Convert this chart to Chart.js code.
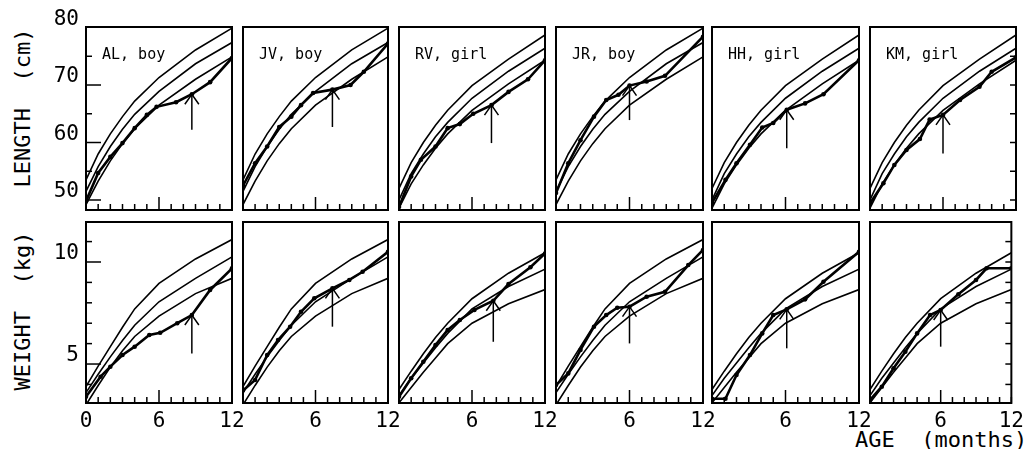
<!DOCTYPE html>
<html><head><meta charset="utf-8">
<script src="https://cdn.jsdelivr.net/npm/chart.js@4.4.1/dist/chart.umd.min.js"></script>
<style>
html,body{margin:0;padding:0;background:#fff}
body{width:1030px;height:449px;position:relative;overflow:hidden;font-family:"DejaVu Sans Mono",monospace;color:#000}
canvas{position:absolute;left:0;top:0}
.ttl{position:absolute;font-size:22px;line-height:22px;white-space:pre}
</style></head>
<body>
<div class="ttl" id="tLen" style="left:23px;top:108px;transform:translate(-50%,-50%) rotate(-90deg)">LENGTH  (cm)</div>
<div class="ttl" id="tWt" style="left:23px;top:311px;transform:translate(-50%,-50%) rotate(-90deg)">WEIGHT  (kg)</div>
<div class="ttl" id="tAge" style="left:855px;top:429px">AGE  (months)</div>
<script>
// ---------- data ----------
const panelNames = ["AL, boy", "JV, boy", "RV, girl", "JR, boy", "HH, girl", "KM, girl"];
const panelSex = ["boy", "boy", "girl", "boy", "girl", "girl"];

// reference growth curves (months and values)
const refMonths = [0, 1, 2, 3, 4, 6, 9, 12];
const boyLenHigh = [53.5, 58.0, 61.5, 64.5, 67.2, 71.3, 76.1, 79.9];
const boyLenMid  = [51.5, 55.8, 59.3, 62.3, 64.9, 68.9, 73.7, 77.4];
const boyLenLow  = [49.2, 53.3, 56.8, 59.8, 62.4, 66.5, 71.0, 74.9];
const girlLenHigh = [52.0, 56.5, 60.0, 63.0, 65.6, 69.9, 74.5, 78.7];
const girlLenMid  = [50.0, 54.6, 58.0, 61.0, 63.5, 67.7, 72.4, 76.4];
const girlLenLow  = [48.6, 52.8, 56.1, 59.0, 61.5, 65.6, 70.2, 74.3];
const boyWtHigh = [3.9, 4.9, 5.85, 6.8, 7.7, 8.95, 10.15, 11.1];
const boyWtMid  = [3.6, 4.5, 5.35, 6.15, 6.9, 8.05, 9.2, 10.25];
const boyWtLow  = [3.0, 3.95, 4.85, 5.65, 6.35, 7.35, 8.45, 9.2];
const girlWtHigh = [3.75, 4.65, 5.5, 6.3, 7.0, 8.2, 9.45, 10.45];
const girlWtMid  = [3.45, 4.3, 5.05, 5.8, 6.5, 7.7, 8.8, 9.65];
const girlWtLow  = [3.1, 3.85, 4.6, 5.3, 6.0, 7.0, 7.95, 8.65];

// infants: length (cm)
const alLenMonths = [0, 1, 2, 3, 4, 5, 5.8, 7.4, 8.7, 10.2, 12];
const alLenValues = [49.8, 54.7, 57.5, 59.9, 62.5, 64.8, 66.2, 67.0, 68.4, 70.5, 74.7];
const jvLenMonths = [0, 1, 2, 3, 4, 4.8, 5.8, 7.4, 8.9, 10, 12];
const jvLenValues = [52.5, 56.4, 59.3, 62.7, 64.5, 66.5, 68.6, 69.2, 70.0, 72.3, 77.2];
const rvLenMonths = [0, 1, 1.8, 3, 4, 5, 6.1, 7.6, 9, 10.6, 12];
const rvLenValues = [48.8, 54.1, 57.0, 59.3, 62.5, 63.2, 65.0, 66.5, 68.8, 71.0, 74.3];
const jrLenMonths = [0, 1, 2, 3.1, 4.1, 5.1, 6, 7.4, 8.9, 12];
const jrLenValues = [51.2, 56.4, 60.4, 64.5, 67.4, 68.3, 69.9, 70.6, 71.6, 78.4];
const hhLenMonths = [0, 1.1, 2, 3.1, 4.1, 5, 6.1, 7.6, 9.1, 12];
const hhLenValues = [49.5, 53.5, 56.4, 59.6, 62.6, 63.4, 65.7, 66.8, 68.4, 74.3];
const kmLenMonths = [0, 1.1, 2, 3, 4.1, 4.9, 6, 7.4, 9, 10, 12];
const kmLenValues = [49.4, 52.9, 56.1, 58.7, 60.6, 64.0, 64.8, 67.4, 69.7, 72.3, 74.8];

// infants: weight (kg)
const alWtMonths = [0, 1.2, 2, 3, 4, 5.2, 6.1, 7.5, 8.7, 10.2, 12];
const alWtValues = [3.4, 4.38, 4.87, 5.44, 5.85, 6.42, 6.53, 7.0, 7.4, 8.63, 9.69];
const jvWtMonths = [0, 1, 2, 2.9, 3.9, 4.8, 5.9, 7.4, 8.8, 9.9, 12];
const jvWtValues = [3.7, 4.22, 5.44, 6.18, 6.83, 7.56, 8.22, 8.71, 9.12, 9.52, 10.5];
const rvWtMonths = [0, 1, 2, 3, 4, 5, 6.2, 7.75, 9, 10.8, 12];
const rvWtValues = [3.4, 4.3, 5.11, 5.93, 6.67, 7.16, 7.65, 8.1, 8.92, 9.74, 10.42];
const jrWtMonths = [0, 1, 2, 3.1, 4.1, 5, 6, 7.4, 8.9, 10.8, 12];
const jrWtValues = [3.97, 4.54, 5.69, 6.83, 7.4, 7.76, 7.81, 8.3, 8.54, 9.85, 10.59];
const hhWtMonths = [0, 1.1, 2, 3.1, 4.1, 5, 6.1, 7.6, 9.1, 12];
const hhWtValues = [3.3, 3.3, 4.46, 5.44, 6.5, 7.4, 7.68, 8.17, 9.03, 10.5];
const kmWtMonths = [0, 1, 2, 3, 4, 5.1, 6, 7.5, 9, 9.9, 12];
const kmWtValues = [3.24, 3.89, 4.79, 5.6, 6.5, 7.4, 7.65, 8.42, 9.12, 9.69, 9.69];

// arrows (month, tip value, tail value)
const lenArrowMonth = [8.7, 7.4, 7.6, 6.0, 6.1, 6.0];
const lenArrowTip   = [68.4, 69.2, 66.5, 69.9, 65.7, 64.8];
const lenArrowTail  = [62.2, 62.7, 59.9, 63.9, 59.0, 58.1];
const wtArrowMonth = [8.7, 7.4, 7.75, 6.0, 6.1, 6.0];
const wtArrowTip   = [7.4, 8.71, 8.1, 7.81, 7.68, 7.65];
const wtArrowTail  = [5.52, 6.83, 6.09, 6.01, 5.77, 5.85];

// axes / ticks
const monthTicks = [0, 1, 2, 3, 4, 5, 6, 7, 8, 9, 10, 11, 12];
const firstPanelMonthLabels = [0, 6, 12];
const otherPanelMonthLabels = [6, 12];
const lenTickLabels = [50, 60, 70, 80];
const lenMajorTicks = [50, 60, 70];
const lenMinorTicks = [55, 65, 75];
const lenRightTicks = [50, 55, 60, 65, 70, 75];
const wtTickLabels = [5, 10];
const wtMajorTicks = [5, 10];
const wtMinorTicks = [4, 6, 7, 8, 9, 11];
const wtRightTicks = [4, 5, 6, 7, 8, 9, 10, 11];
const lenRange = [48.26, 80.09];
const wtRange = [3.09, 11.96];

// ---------- layout ----------
const PANEL_LEFT  = [86, 243, 399, 556, 712, 870];
const PANEL_RIGHT = [232, 388, 545, 703, 859, 1016];
const ROW_TOP = [27, 222];
const ROW_BOTTOM = [210, 403];
const W = 1030, H = 449;
const Y_AXIS_W = 40, X_AXIS_H = 30;
const TICK_FONT = {family: '"DejaVu Sans Mono", monospace', size: 21};

const lenSeries = [
  [alLenMonths, alLenValues], [jvLenMonths, jvLenValues], [rvLenMonths, rvLenValues],
  [jrLenMonths, jrLenValues], [hhLenMonths, hhLenValues], [kmLenMonths, kmLenValues]];
const wtSeries = [
  [alWtMonths, alWtValues], [jvWtMonths, jvWtValues], [rvWtMonths, rvWtValues],
  [jrWtMonths, jrWtValues], [hhWtMonths, hhWtValues], [kmWtMonths, kmWtValues]];

function xy(ms, vs) { return ms.map((m, i) => ({x: m, y: vs[i]})); }

function refCurves(row, sex) {
  if (row === 0) return sex === 'boy' ? [boyLenHigh, boyLenMid, boyLenLow] : [girlLenHigh, girlLenMid, girlLenLow];
  return sex === 'boy' ? [boyWtHigh, boyWtMid, boyWtLow] : [girlWtHigh, girlWtMid, girlWtLow];
}

function makePanel(row, col) {
  const cv = document.createElement('canvas');
  cv.width = W; cv.height = H;
  cv.style.width = W + 'px'; cv.style.height = H + 'px';
  document.body.appendChild(cv);
  const sex = panelSex[col];
  const refs = refCurves(row, sex);
  const series = row === 0 ? lenSeries[col] : wtSeries[col];
  const range = row === 0 ? lenRange : wtRange;
  const datasets = refs.map(r => ({
    data: xy(refMonths, r), borderColor: '#000', borderWidth: 1.6,
    pointRadius: 0, tension: 0, fill: false
  }));
  datasets.push({
    data: xy(series[0], series[1]), borderColor: '#000', borderWidth: 2.6,
    pointRadius: 2.3, pointBackgroundColor: '#000', pointBorderWidth: 0,
    tension: 0, fill: false
  });
  const arrowM = row === 0 ? lenArrowMonth[col] : wtArrowMonth[col];
  const arrowT = row === 0 ? lenArrowTip[col] : wtArrowTip[col];
  const arrowB = row === 0 ? lenArrowTail[col] : wtArrowTail[col];

  const decor = {
    id: 'decor' + row + col,
    afterDatasetsDraw(chart) {
      const ctx = chart.ctx, a = chart.chartArea, x = chart.scales.x, y = chart.scales.y;
      ctx.save();
      ctx.strokeStyle = '#000'; ctx.fillStyle = '#000'; ctx.lineCap = 'butt';
      ctx.lineWidth = 1.5;
      monthTicks.forEach(m => {
        const px = x.getPixelForValue(m);
        const len = m === 6 ? 13 : 6;
        ctx.beginPath(); ctx.moveTo(px, a.bottom); ctx.lineTo(px, a.bottom - len); ctx.stroke();
      });
      if (col === 0) {
        const maj = row === 0 ? lenMajorTicks : wtMajorTicks;
        const min = row === 0 ? lenMinorTicks : wtMinorTicks;
        maj.forEach(v => { const py = y.getPixelForValue(v); ctx.beginPath(); ctx.moveTo(a.left, py); ctx.lineTo(a.left + 15, py); ctx.stroke(); });
        min.forEach(v => { const py = y.getPixelForValue(v); ctx.beginPath(); ctx.moveTo(a.left, py); ctx.lineTo(a.left + 6, py); ctx.stroke(); });
      }
      if (col === 5) {
        const rt = row === 0 ? lenRightTicks : wtRightTicks;
        rt.forEach(v => { const py = y.getPixelForValue(v); ctx.beginPath(); ctx.moveTo(a.right, py); ctx.lineTo(a.right - 6, py); ctx.stroke(); });
      }
      const ax = x.getPixelForValue(arrowM), at = y.getPixelForValue(arrowT), ab = y.getPixelForValue(arrowB);
      ctx.lineWidth = 1.5;
      ctx.beginPath(); ctx.moveTo(ax, ab); ctx.lineTo(ax, at); ctx.stroke();
      ctx.beginPath(); ctx.moveTo(ax - 7, at + 10); ctx.lineTo(ax, at); ctx.lineTo(ax + 7, at + 10); ctx.stroke();
      ctx.lineWidth = 2;
      ctx.strokeRect(a.left, a.top, a.right - a.left, a.bottom - a.top);
      if (row === 0) {
        ctx.font = '15px "DejaVu Sans Mono", monospace';
        ctx.textBaseline = 'middle'; ctx.textAlign = 'left';
        ctx.fillText(panelNames[col], a.left + 16, a.top + 28);
      }
      ctx.restore();
    }
  };

  const xLabels = col === 0 ? firstPanelMonthLabels : otherPanelMonthLabels;
  const yLabels = row === 0 ? lenTickLabels : wtTickLabels;
  const yW = col === 0 ? Y_AXIS_W : 0;
  const xH = row === 1 ? X_AXIS_H : 0;

  new Chart(cv, {
    type: 'line',
    data: {datasets},
    plugins: [decor],
    options: {
      responsive: false, maintainAspectRatio: false, animation: false,
      events: [],
      layout: {padding: {left: PANEL_LEFT[col] - yW, right: W - PANEL_RIGHT[col], top: ROW_TOP[row], bottom: H - ROW_BOTTOM[row] - xH}},
      plugins: {legend: {display: false}, tooltip: {enabled: false}, title: {display: false}},
      scales: {
        x: {
          type: 'linear', min: 0, max: 12,
          grid: {display: false, drawTicks: false}, border: {display: false},
          afterBuildTicks: s => { s.ticks = xLabels.map(v => ({value: v})); },
          afterFit: s => { s.height = xH; },
          ticks: {display: row === 1, autoSkip: false, maxRotation: 0, minRotation: 0, padding: 6,
                  color: '#000', font: TICK_FONT, callback: v => String(v)}
        },
        y: {
          type: 'linear', min: range[0], max: range[1],
          grid: {display: false, drawTicks: false}, border: {display: false},
          afterBuildTicks: s => { s.ticks = yLabels.map(v => ({value: v})); },
          afterFit: s => { s.width = yW; },
          ticks: {display: col === 0, autoSkip: false, padding: 7, labelOffset: -8,
                  color: '#000', font: TICK_FONT, callback: v => String(v)}
        }
      }
    }
  });
}

for (let r = 0; r < 2; r++) for (let c = 0; c < 6; c++) makePanel(r, c);
</script>
</body></html>
